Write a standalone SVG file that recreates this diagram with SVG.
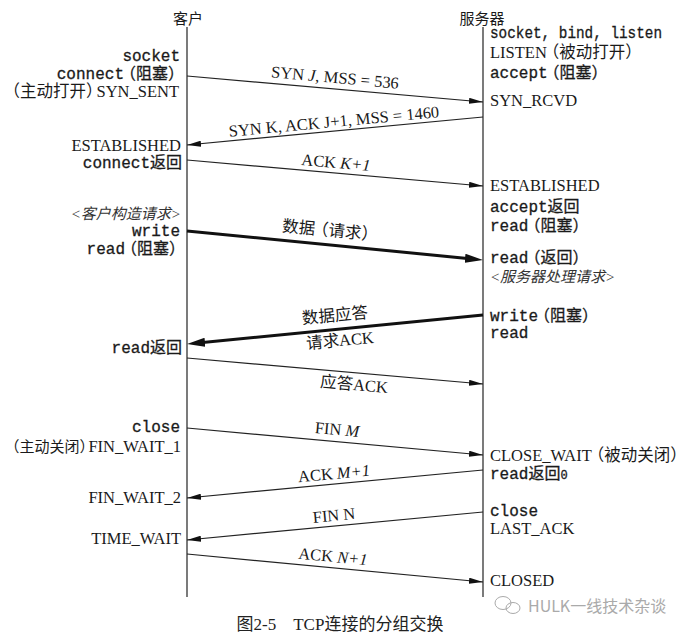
<svg xmlns="http://www.w3.org/2000/svg" width="696" height="636" viewBox="0 0 696 636">
<style>
.bg{fill:#fff}
.life{stroke:#333;stroke-width:1.3;fill:none}
.msg{stroke:#222;stroke-width:1.2;fill:none}
.thick{stroke:#111;stroke-width:3;fill:none}
.t{fill:#1a1a1a}
.mono{font-family:"Liberation Mono","Noto Sans CJK SC",monospace;font-size:16px;stroke:#1a1a1a;stroke-width:0.3}
.serif{font-family:"Liberation Serif","Noto Sans CJK SC",serif;font-size:16.5px}
.cjk{font-family:"Noto Sans CJK SC",sans-serif;font-size:15px}
.note{font-family:"Liberation Serif","Noto Sans CJK SC",serif;font-size:15px;font-style:italic;fill:#333}
.lab{font-family:"Liberation Serif","Noto Sans CJK SC",serif;font-size:16.5px;fill:#1a1a1a;text-anchor:middle}
.it{font-style:italic}
.end{text-anchor:end}
</style>
<defs>
<marker id="ah" markerUnits="userSpaceOnUse" markerWidth="14" markerHeight="6" refX="14" refY="3" orient="auto">
<path d="M0,0 L14,3 L0,6 z" fill="#111"/>
</marker>
<marker id="ahb" markerUnits="userSpaceOnUse" markerWidth="18" markerHeight="9" refX="10" refY="4.5" orient="auto">
<path d="M0,0 L18,4.5 L0,9 z" fill="#111"/>
</marker>
</defs>
<rect class="bg" x="0" y="0" width="696" height="636"/>

<g id="client">
<text class="t cjk" x="188" y="24" text-anchor="middle">客户</text>
<line class="life" x1="187" y1="27" x2="187" y2="597"/>
<text class="t mono end" x="180" y="61">socket</text>
<text class="t mono end" x="184" y="79">connect<tspan dx="-4">（阻塞）</tspan></text>
<text class="t serif end" x="179" y="97">（主动打开）<tspan dx="-6">SYN_SENT</tspan></text>
<text class="t serif end" x="181" y="151">ESTABLISHED</text>
<text class="t mono end" x="182" y="168">connect返回</text>
<text class="note end" x="181" y="219">&lt;客户构造请求&gt;</text>
<text class="t mono end" x="180" y="236">write</text>
<text class="t mono end" x="185" y="254">read<tspan dx="-4">（阻塞）</tspan></text>
<text class="t mono end" x="182" y="353">read返回</text>
<text class="t mono end" x="180" y="432">close</text>
<text class="t serif end" x="181" y="452"><tspan font-size="15">（主动关闭）</tspan><tspan dx="-6">FIN_WAIT_1</tspan></text>
<text class="t serif end" x="181" y="503">FIN_WAIT_2</text>
<text class="t serif end" x="181" y="544">TIME_WAIT</text>
</g>

<g id="server">
<text class="t cjk" x="482" y="24" text-anchor="middle">服务器</text>
<line class="life" x1="483" y1="27" x2="483" y2="597"/>
<text class="t mono" x="490" y="38" textLength="172" lengthAdjust="spacingAndGlyphs">socket, bind, listen</text>
<text class="t serif" x="490" y="58">LISTEN<tspan dx="-4">（被动打开）</tspan></text>
<text class="t mono" x="490" y="78">accept<tspan dx="-4">（阻塞）</tspan></text>
<text class="t serif" x="490" y="106">SYN_RCVD</text>
<text class="t serif" x="490" y="191">ESTABLISHED</text>
<text class="t mono" x="490" y="212">accept返回</text>
<text class="t mono" x="490" y="231">read<tspan dx="-4">（阻塞）</tspan></text>
<text class="t mono" x="490" y="263">read<tspan dx="-4">（返回）</tspan></text>
<text class="note" x="490" y="282">&lt;服务器处理请求&gt;</text>
<text class="t mono" x="490" y="321">write<tspan dx="-4">（阻塞）</tspan></text>
<text class="t mono" x="490" y="338">read</text>
<text class="t serif" x="490" y="461">CLOSE_WAIT<tspan dx="-4">（被动关闭）</tspan></text>
<text class="t mono" x="490" y="479">read返回<tspan font-size="12">0</tspan></text>
<text class="t mono" x="490" y="516">close</text>
<text class="t serif" x="490" y="534">LAST_ACK</text>
<text class="t serif" x="490" y="586">CLOSED</text>
</g>

<g id="connectors">
<line class="msg" x1="187" y1="76" x2="483" y2="102" marker-end="url(#ah)"/>
<line class="msg" x1="483" y1="117" x2="187" y2="145" marker-end="url(#ah)"/>
<line class="msg" x1="187" y1="160" x2="483" y2="186" marker-end="url(#ah)"/>
<line class="thick" x1="187" y1="231" x2="475" y2="259.2" marker-end="url(#ahb)"/>
<line class="thick" x1="483" y1="315" x2="195" y2="343.2" marker-end="url(#ahb)"/>
<line class="msg" x1="187" y1="358" x2="483" y2="384" marker-end="url(#ah)"/>
<line class="msg" x1="187" y1="428" x2="483" y2="455" marker-end="url(#ah)"/>
<line class="msg" x1="483" y1="470" x2="187" y2="498" marker-end="url(#ah)"/>
<line class="msg" x1="483" y1="512" x2="187" y2="540" marker-end="url(#ah)"/>
<line class="msg" x1="187" y1="554" x2="483" y2="582" marker-end="url(#ah)"/>

<text class="lab" transform="translate(335,78) rotate(5.1)" y="5">SYN <tspan class="it">J</tspan>, MSS = 536</text>
<text class="lab" transform="translate(334,122) rotate(-5.3)" y="5">SYN K, ACK J+1, MSS = 1460</text>
<text class="lab" transform="translate(336,163) rotate(5.1)" y="5">ACK <tspan class="it">K+1</tspan></text>
<text class="lab" transform="translate(330,231) rotate(5.4)" y="5">数据<tspan dx="-3">（请求）</tspan></text>
<text class="lab" transform="translate(335,316) rotate(-5.4)" y="5">数据应答</text>
<text class="lab" transform="translate(340,341) rotate(-5.4)" y="5">请求ACK</text>
<text class="lab" transform="translate(354,385) rotate(5.1)" y="5">应答ACK</text>
<text class="lab" transform="translate(337,430) rotate(5.2)" y="5">FIN <tspan class="it">M</tspan></text>
<text class="lab" transform="translate(334,474) rotate(-5.4)" y="5">ACK <tspan class="it">M+1</tspan></text>
<text class="lab" transform="translate(334,516) rotate(-5.4)" y="5">FIN N</text>
<text class="lab" transform="translate(333,557) rotate(5.4)" y="5">ACK <tspan class="it">N+1</tspan></text>
</g>

<text x="340" y="630" text-anchor="middle" style="font-family:'Liberation Serif','Noto Sans CJK SC',serif;font-size:17px;fill:#222">图2-5　TCP连接的分组交换</text>

<g id="watermark" fill="none" stroke="#aaa" stroke-width="1">
<ellipse cx="503" cy="603" rx="8" ry="6.5"/>
<ellipse cx="513" cy="608" rx="7" ry="5.5"/>
</g>
<text x="528" y="612" style="font-family:'Noto Sans CJK SC',sans-serif;font-size:16px;fill:#aaa">HULK一线技术杂谈</text>
</svg>
